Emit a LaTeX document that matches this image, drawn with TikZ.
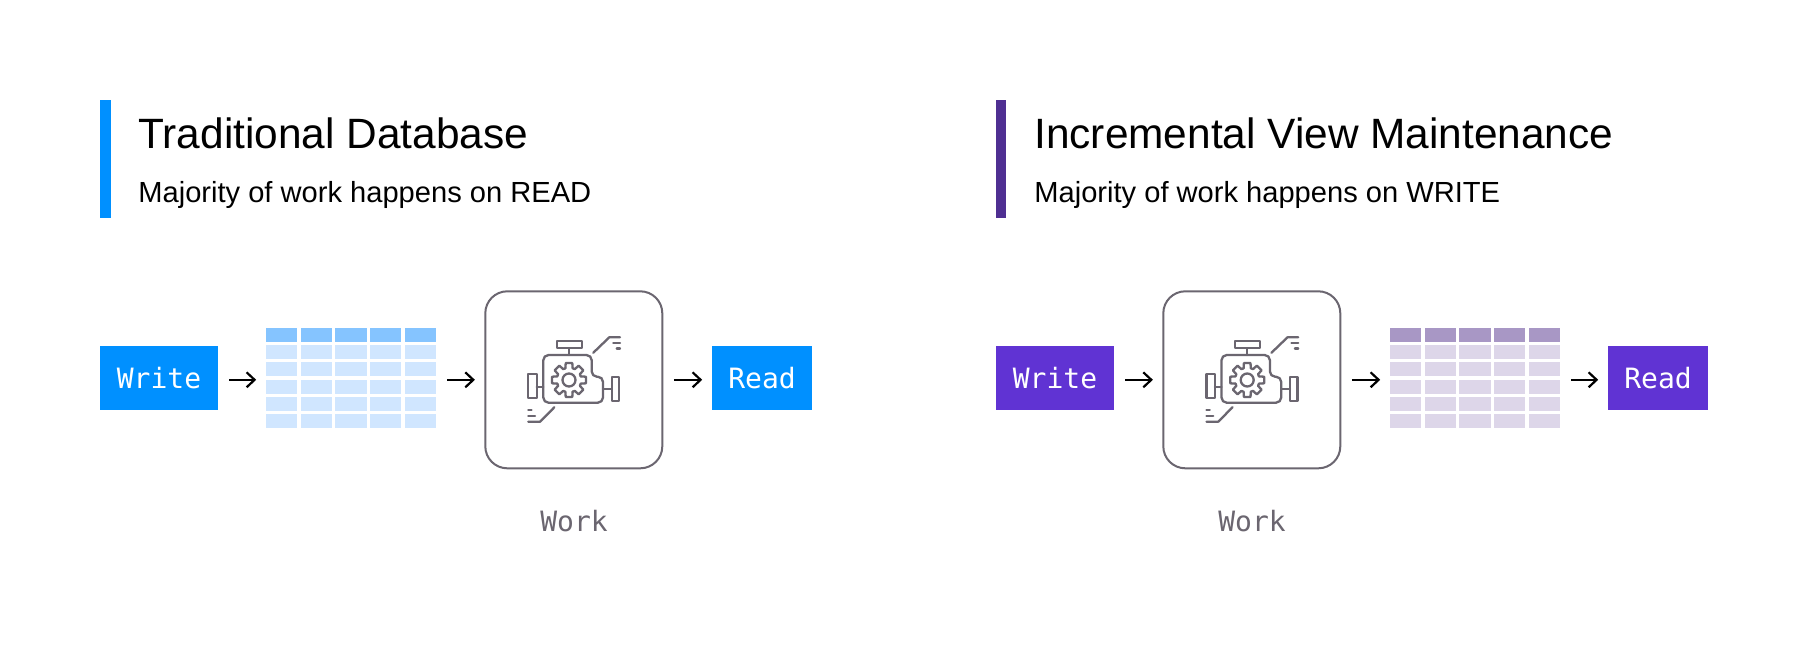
\documentclass[tikz,border=0pt]{standalone}
\usepackage{fontspec}
\setmainfont{Liberation Sans}
\newfontfamily\monof{DejaVu Sans Mono}
\usetikzlibrary{arrows.meta}
\definecolor{blueA}{HTML}{0090FF}
\definecolor{blueH}{HTML}{85C4FF}
\definecolor{blueR}{HTML}{D0E6FF}
\definecolor{purpA}{HTML}{6033D3}
\definecolor{purpB}{HTML}{4F2F92}
\definecolor{purpH}{HTML}{A897C5}
\definecolor{purpR}{HTML}{DDD6E9}
\definecolor{inkG}{HTML}{6B6670}
\tikzset{
  x=0.5pt,y=-0.5pt,
  titletext/.style={anchor=base west,inner sep=0pt,font=\fontsize{21.2}{24}\selectfont,text=black},
  subtext/.style={anchor=base west,inner sep=0pt,font=\fontsize{14.55}{17}\selectfont,text=black},
  labelbox/.style={draw=none,inner sep=0pt,minimum height=32pt,text=white,font=\monof\fontsize{14}{17}\selectfont},
  enginebox/.style={draw=inkG,line width=1pt,rounded corners=11pt,minimum width=88.5pt,minimum height=88.5pt,inner sep=0pt},
  worktext/.style={inner sep=0pt,anchor=base,text=inkG,font=\monof\fontsize{14}{17}\selectfont},
  tablebox/.style={inner sep=0pt,minimum width=85pt,minimum height=50pt},
  conn/.style={draw=black,line width=1.1pt,-{Straight Barb[length=4pt,width=7.5pt,line width=1.1pt]},shorten <=5.3pt,shorten >=4.7pt},
  icon/.style={draw=inkG,line width=1.15pt,line join=round,line cap=round,fill=none},
}
% table: #1 x-left, #2 name, #3 head colour, #4 row colour
\newcommand{\datatable}[4]{%
  \node[tablebox] (#2) at (#1+85,378) {};
  \foreach \c in {0,...,4}{
    \fill[#3] (#1+\c*34.67,328) rectangle ++(31.33,14);
    \foreach \r in {1,...,5}{
      \fill[#4] (#1+\c*34.67,328+\r*17.2) rectangle ++(31.33,14);
    }
  }%
}
% engine icon: #1 = box left x in px
\newcommand{\engineicon}[1]{%
  \begin{scope}[shift={(#1-484.3,0)}]
    \draw[icon] (556.7,340.7) rectangle (581.7,348.3);
    \draw[icon] (569,348.3) -- (569,355);
    \draw[icon,rounded corners=2.6pt] (560,355) -- (591.7,355) -- (591.7,376.7) -- (603,376.7)
       -- (603,402.7) -- (543.3,402.7) -- (543.3,355) -- (570,355);
    \draw[icon] (528.3,374) rectangle (536.7,398.3);
    \draw[icon] (536.7,386.7) -- (543.3,386.7);
    \draw[icon] (611.7,376.7) rectangle (619.3,401);
    \draw[icon] (603,389) -- (611.7,389);
    \draw[icon] (593.3,352.7) -- (609.3,337.3) -- (620,337.3);
    \draw[icon] (613.3,343.3) -- (620,343.3);
    \draw[icon] (616.7,348.5) -- (620,348.5);
    \draw[icon] (554.3,407.3) -- (540,421.7) -- (528.3,421.7);
    \draw[icon] (528.3,416) -- (535,416);
    \draw[icon] (528.3,410) -- (531.5,410);
    \begin{scope}[shift={(569,380)}]
      \draw[icon] (0,0) circle[radius=6.5];
      \foreach \a in {0,45,...,315}{
        \draw[icon] (\a-17:12.3) -- (\a-11:17.3) -- (\a+11:17.3) -- (\a+17:12.3) -- (\a+28:12.3);
      }
    \end{scope}
  \end{scope}%
}
\begin{document}
\begin{tikzpicture}
\useasboundingbox[fill=white] (0,0) rectangle (1808,654);
% left panel
\fill[blueA] (100,100) rectangle (110.5,218);
\node[titletext] (t1) at (138,148.6) {Traditional Database};
\node[subtext] (s1) at (138,202) {Majority of work happens on READ};
\node[labelbox,fill=blueA,minimum width=59pt] (w1) at (159,378) {Write};
\datatable{266}{tb1}{blueH}{blueR}
\node[enginebox] (e1) at (573.8,379.8) {};
\engineicon{484.3}
\node[labelbox,fill=blueA,minimum width=50pt] (r1) at (762,378) {Read};
\node[worktext] (k1) at (574,531.7) {Work};
\draw[conn] (w1.east |- e1.center) -- (tb1.west |- e1.center);
\draw[conn] (tb1.east |- e1.center) -- (e1.west);
\draw[conn] (e1.east) -- (r1.west |- e1.center);
% right panel
\fill[purpB] (996,100) rectangle (1005.5,218);
\node[titletext] (t2) at (1034,148.6) {Incremental View Maintenance};
\node[subtext] (s2) at (1034,202) {Majority of work happens on WRITE};
\node[labelbox,fill=purpA,minimum width=59pt] (w2) at (1055,378) {Write};
\node[enginebox] (e2) at (1251.8,379.8) {};
\engineicon{1162.5}
\datatable{1390}{tb2}{purpH}{purpR}
\node[labelbox,fill=purpA,minimum width=50pt] (r2) at (1658,378) {Read};
\node[worktext] (k2) at (1252,531.7) {Work};
\draw[conn] (w2.east |- e2.center) -- (e2.west);
\draw[conn] (e2.east) -- (tb2.west |- e2.center);
\draw[conn] (tb2.east |- e2.center) -- (r2.west |- e2.center);
\end{tikzpicture}
\end{document}
